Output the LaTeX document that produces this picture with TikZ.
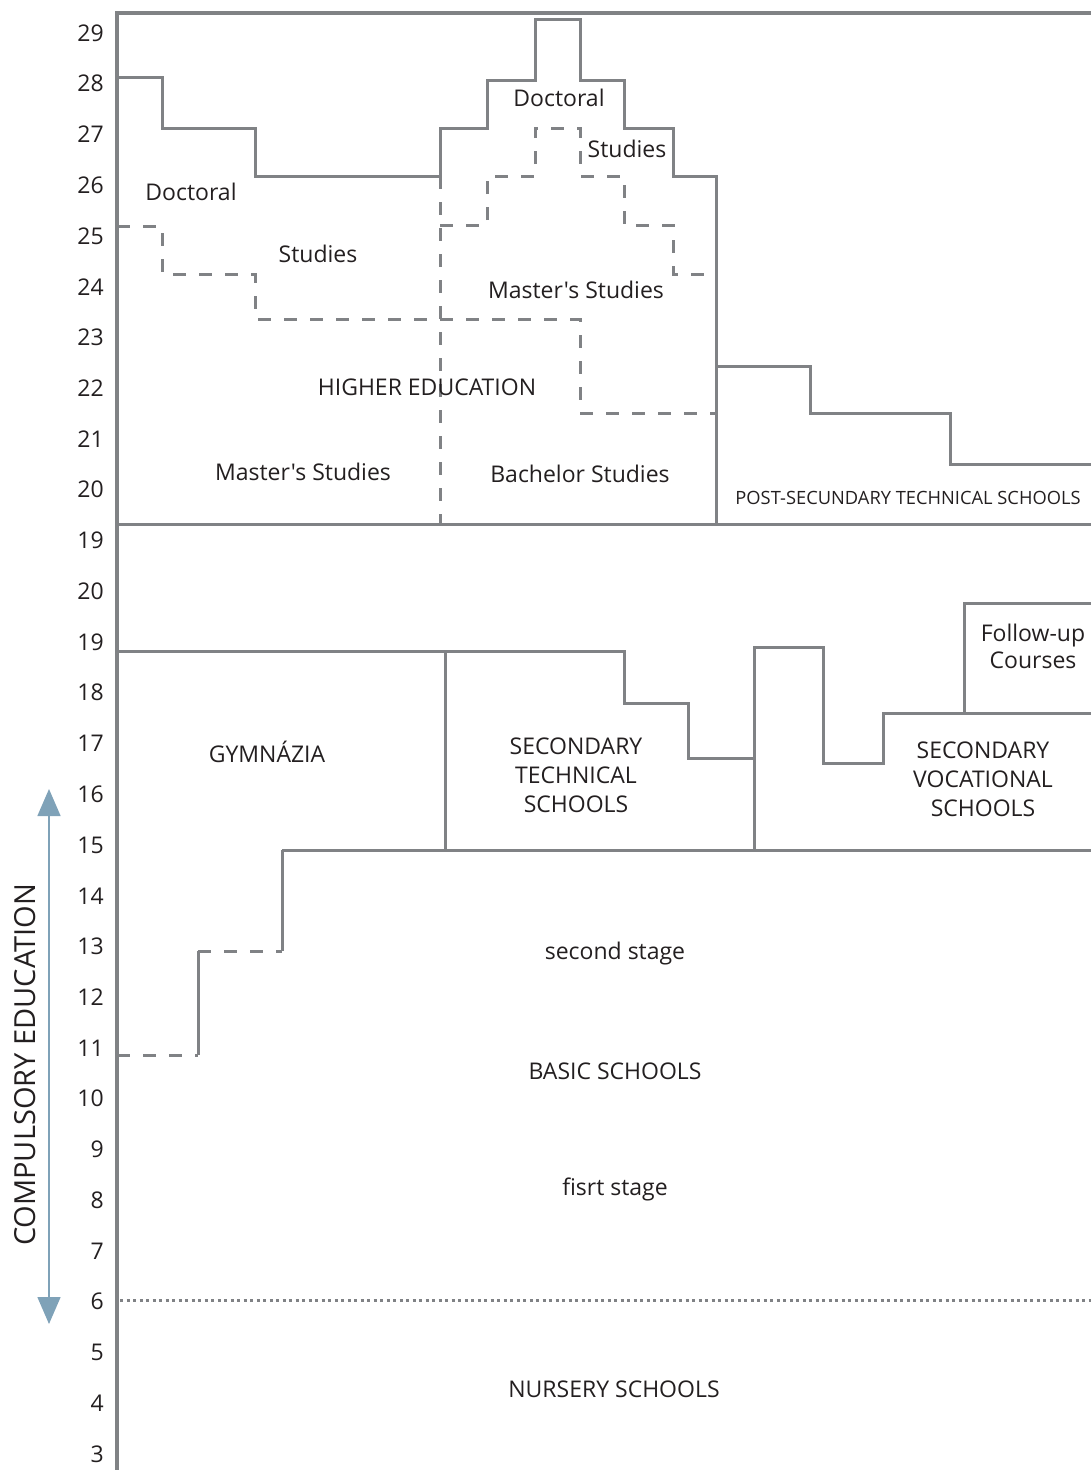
\documentclass[tikz,border=0pt]{standalone}
\usepackage{fontspec}
\setmainfont{Open Sans}
% plain family without TeX ligatures, so ' stays a straight quote
\newfontfamily\labelfont{Open Sans}
\usetikzlibrary{arrows.meta}
\definecolor{linegray}{RGB}{128,130,133}
\definecolor{txt}{RGB}{35,31,32}
\definecolor{arrowblue}{RGB}{127,162,184}
\begin{document}
\begin{tikzpicture}[x=1pt,y=-1pt,
  solidline/.style={draw=linegray,line width=3pt,line join=miter},
  dashline/.style={draw=linegray,line width=3pt,dash pattern=on 13pt off 13pt},
  dotline/.style={draw=linegray,line width=3pt,dash pattern=on 3pt off 3.5pt},
  lbl/.style={text=txt,font=\labelfont\fontsize{23}{29}\selectfont,inner sep=0pt,align=center},
  smalllbl/.style={text=txt,font=\labelfont\fontsize{18.3}{22}\selectfont,inner sep=0pt},
  agelbl/.style={text=txt,font=\labelfont\fontsize{23}{28}\selectfont,inner sep=0pt,anchor=east}]
\useasboundingbox (0,0) rectangle (1091,1470);

% frame: age axis, top edge and section borders
\draw[solidline,line width=3.5pt] (117,1470) -- (117,13) -- (1091,13);
\draw[solidline] (117,524) -- (1091,524);

% higher education: outer doctoral steps
\draw[solidline] (117,77) -- (162,77) -- (162,128) -- (255,128) -- (255,176) -- (440,176)
  -- (440,128) -- (487,128) -- (487,80) -- (535,80) -- (535,19) -- (580,19) -- (580,80)
  -- (624,80) -- (624,128) -- (673,128) -- (673,176) -- (716,176) -- (716,524);
% inner master's steps (centre)
\draw[dashline] (440,176) -- (440,524);
\draw[dashline] (440,225) -- (487,225) -- (487,176) -- (535,176) -- (535,128) -- (580,128)
  -- (580,176) -- (624,176) -- (624,225) -- (673,225) -- (673,274) -- (716,274);
% master's / bachelor boundaries (left)
\draw[dashline] (117,226) -- (162,226) -- (162,274) -- (255,274) -- (255,319) -- (580,319)
  -- (580,413) -- (716,413);
% post-secondary technical schools
\draw[solidline] (716,366) -- (810,366) -- (810,413) -- (950,413) -- (950,464) -- (1091,464);

% secondary level
\draw[solidline] (117,651) -- (624,651) -- (624,703) -- (688,703) -- (688,758) -- (754,758);
\draw[solidline] (445,651) -- (445,850);
\draw[solidline] (754,850) -- (754,647) -- (823,647) -- (823,763) -- (883,763) -- (883,713) -- (1091,713);
\draw[solidline] (964,713) -- (964,603) -- (1091,603);
\draw[solidline] (282,850) -- (1091,850);
% gymnasium entry steps
\draw[dashline] (117,1055) -- (198,1055);
\draw[solidline] (198,1055) -- (198,951);
\draw[dashline] (198,951) -- (282,951);
\draw[solidline] (282,951) -- (282,850);
% start of compulsory school
\draw[dotline] (120,1300) -- (1091,1300);

% compulsory education range
\coordinate (ceTop) at (49,789);
\coordinate (ceBot) at (49,1324);
\draw[draw=arrowblue,line width=1.5pt,
  {Triangle[width=23pt,length=27pt,fill=arrowblue]}-{Triangle[width=23pt,length=27pt,fill=arrowblue]}]
  (ceTop) -- (ceBot);
\node[lbl,rotate=90,font=\labelfont\fontsize{29}{34}\selectfont] (compulsory) at (25,1065) {COMPULSORY EDUCATION};

% ages
\foreach \a [count=\i from 0] in {29,28,27,26,25,24,23,22,21,20,19,20,19,18,17,16,15,14,13,12,11,10,9,8,7,6,5,4,3}
  \node[agelbl] (age\i) at (104,{33+50.75*\i}) {\a};

% labels: higher education
\node[lbl] (docL) at (191,192) {Doctoral};
\node[lbl] (studL) at (318,254) {Studies};
\node[lbl] (docC) at (559,98) {Doctoral};
\node[lbl] (studC) at (627,149) {Studies};
\node[lbl] (mastC) at (576,290) {Master's Studies};
\node[lbl] (higher) at (427,387) {HIGHER EDUCATION};
\node[lbl] (mastL) at (303,472) {Master's Studies};
\node[lbl] (bach) at (580,474) {Bachelor Studies};
\node[smalllbl] (postsec) at (908,498) {POST-SECUNDARY TECHNICAL SCHOOLS};

% labels: secondary and basic level
\node[lbl] (gym) at (267,752) {GYMNÁZIA};
\node[lbl] (sectech) at (576,775) {SECONDARY\\TECHNICAL\\SCHOOLS};
\node[lbl] (secvoc) at (983,779) {SECONDARY\\VOCATIONAL\\SCHOOLS};
\node[lbl,font=\labelfont\fontsize{23}{27}\selectfont] (follow) at (1033,646) {Follow-up\\Courses};
\node[lbl] (second) at (615,954) {second stage};
\node[lbl] (basic) at (615,1071) {BASIC SCHOOLS};
\node[lbl] (first) at (615,1189) {fisrt stage};
\node[lbl] (nursery) at (614,1389) {NURSERY SCHOOLS};
\end{tikzpicture}
\end{document}
